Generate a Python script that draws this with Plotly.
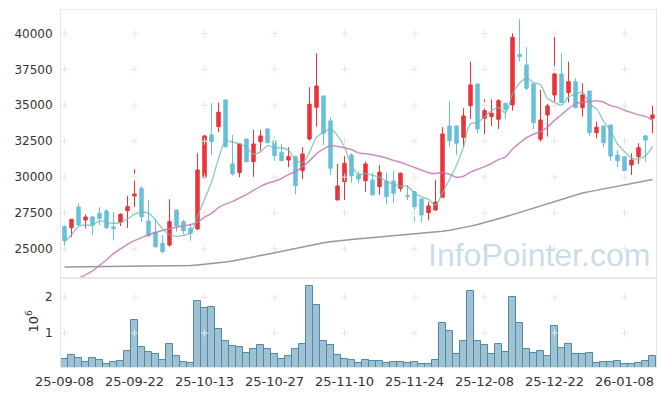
import plotly.graph_objects as go
from plotly.subplots import make_subplots

dates = [
    "25-09-08", "25-09-09", "25-09-10", "25-09-11", "25-09-12",
    "25-09-15", "25-09-16", "25-09-17", "25-09-18", "25-09-19",
    "25-09-22", "25-09-23", "25-09-24", "25-09-25", "25-09-26",
    "25-09-29", "25-09-30", "25-10-01", "25-10-02", "25-10-10",
    "25-10-13", "25-10-14", "25-10-15", "25-10-16", "25-10-17",
    "25-10-20", "25-10-21", "25-10-22", "25-10-23", "25-10-24",
    "25-10-27", "25-10-28", "25-10-29", "25-10-30", "25-10-31",
    "25-11-03", "25-11-04", "25-11-05", "25-11-06", "25-11-07",
    "25-11-10", "25-11-11", "25-11-12", "25-11-13", "25-11-14",
    "25-11-17", "25-11-18", "25-11-19", "25-11-20", "25-11-21",
    "25-11-24", "25-11-25", "25-11-26", "25-11-27", "25-11-28",
    "25-12-01", "25-12-02", "25-12-03", "25-12-04", "25-12-05",
    "25-12-08", "25-12-09", "25-12-10", "25-12-11", "25-12-12",
    "25-12-15", "25-12-16", "25-12-17", "25-12-18", "25-12-19",
    "25-12-22", "25-12-23", "25-12-24", "25-12-26", "25-12-29",
    "25-12-30", "26-01-02", "26-01-05", "26-01-06", "26-01-07",
    "26-01-08", "26-01-09", "26-01-12", "26-01-13", "26-01-14",
]

open_ = [
    26552, 26482, 27923, 27018, 27227, 27485, 27645, 26531, 26858, 27666,
    28689, 29225, 26949, 26162, 25397, 25278, 27714, 26900, 26441, 26392,
    29962, 32934, 33512, 35370, 30916, 30310, 32656, 31076, 32468, 33352,
    32538, 31730, 31194, 31424, 30450, 32656, 34862, 35649, 33909, 28410,
    29684, 31542, 30150, 29754, 29802, 29336, 29733, 29733, 29225, 28710,
    28988, 28480, 27526, 27714, 28598, 33561, 33561, 32774, 34974, 36484,
    34097, 34208, 34027, 35141, 35022, 38551, 37806, 36484, 32635, 34326,
    35718, 37180, 35878, 36644, 34834, 35997, 33094, 33561, 33630, 31542,
    31424, 30846, 31424, 32865, 34097,
]
high = [
    26670, 27067, 28181, 27415, 27297, 27902, 27763, 27575, 27485, 28689,
    30547, 29364, 28410, 27109, 25974, 28459, 27714, 27018, 26740, 31661,
    32934, 35141, 35182, 35400, 32934, 32308, 32656, 33282, 33282, 33401,
    32816, 32308, 32078, 31473, 32078, 36254, 38621, 35649, 34166, 30916,
    31473, 31661, 30380, 31076, 30310, 30846, 30310, 30450, 30310, 29454,
    29037, 28530, 28292, 29802, 33470, 35301, 33561, 34793, 38036, 36484,
    35419, 35419, 35419, 35182, 40013, 40987, 39038, 36484, 36066, 35092,
    40124, 38621, 38036, 36881, 36533, 35997, 33860, 33561, 33630, 31890,
    31424, 31661, 32357, 32934, 34953,
]
low = [
    25209, 25814, 26601, 26427, 25954, 26670, 26392, 25592, 26601, 26462,
    27923, 26879, 25814, 25070, 24700, 25160, 26204, 26044, 25578, 26322,
    29921, 31542, 33122, 32050, 30102, 29990, 31006, 30032, 31842, 32350,
    31146, 31104, 30686, 28828, 29851, 32538, 33512, 32238, 30150, 28410,
    28410, 29614, 29573, 28988, 28758, 28760, 28111, 28181, 28990, 28410,
    26900, 26830, 27018, 27645, 28598, 32120, 31542, 32120, 34048, 33053,
    33004, 33561, 33352, 34048, 34626, 38036, 36066, 33331, 32468, 32816,
    35252, 35182, 35182, 34793, 34208, 32865, 32705, 32078, 31146, 30686,
    30450, 30150, 30916, 31076, 33053,
]
close = [
    25578, 27067, 26670, 27227, 26656, 27137, 26482, 26413, 27415, 27944,
    28828, 27248, 25926, 25160, 24812, 26900, 26601, 26274, 26093, 30498,
    32865, 32468, 34514, 32120, 30220, 32308, 31076, 32308, 32865, 32398,
    31494, 31146, 31424, 29406, 31612, 35071, 36345, 33053, 30617, 29385,
    30965, 30102, 29872, 30916, 28758, 30338, 28640, 28877, 30269, 28668,
    27944, 27366, 27993, 28271, 33004, 32538, 32357, 34257, 36414, 33352,
    34626, 34445, 35322, 34723, 39734, 38384, 36185, 33790, 33978, 34953,
    37180, 35182, 36644, 34834, 35718, 33094, 33470, 32398, 31473, 31146,
    30450, 31194, 32050, 32586, 34326,
]
volume = [
    280000, 390000, 310000, 190000, 310000, 260000, 140000, 190000, 220000, 500000,
    1360000, 610000, 470000, 420000, 250000, 690000, 360000, 190000, 170000, 1890000,
    1690000, 1720000, 1110000, 780000, 640000, 610000, 440000, 560000, 670000, 560000,
    420000, 280000, 360000, 560000, 690000, 2310000, 1780000, 780000, 670000, 390000,
    280000, 260000, 170000, 260000, 220000, 220000, 170000, 190000, 190000, 170000,
    190000, 140000, 140000, 250000, 1280000, 1060000, 420000, 780000, 2170000, 780000,
    670000, 420000, 690000, 470000, 2000000, 1280000, 560000, 440000, 500000, 360000,
    1190000, 580000, 690000, 420000, 420000, 440000, 170000, 190000, 190000, 220000,
    140000, 140000, 170000, 220000, 360000,
]
ma5 = [
    25510, 25975, 26550, 26670, 26642, 26958, 26841, 26789, 26827, 27082,
    27416, 27570, 27473, 27022, 26396, 26010, 25880, 25949, 26136, 27273,
    28466, 29640, 31288, 32493, 32438, 32326, 32048, 31606, 31755, 32191,
    32029, 32043, 31867, 31175, 31017, 31732, 32771, 33097, 33340, 32894,
    32073, 30824, 30188, 30247, 30122, 29997, 29705, 29506, 29377, 29363,
    28884, 28629, 28453, 28053, 28915, 29835, 30833, 32086, 33715, 33785,
    34202, 34619, 34832, 34493, 35770, 36531, 36879, 36574, 36426, 35469,
    35217, 35016, 35585, 35756, 35909, 35095, 34752, 33903, 33230, 32316,
    31787, 31332, 31262, 31485, 32121,
]
ma20 = [
    22350, 22650, 22950, 23200, 23480, 23850, 24250, 24680, 25000, 25320,
    25578, 25780, 25990, 26150, 26280, 26400, 26510, 26610, 26700, 26848,
    27213, 27483, 27875, 28120, 28297, 28555, 28784, 29079, 29352, 29574,
    29708, 29903, 30178, 30390, 30730, 31138, 31626, 31964, 32191, 32135,
    32040, 31922, 31689, 31629, 31556, 31458, 31336, 31164, 31035, 30849,
    30672, 30482, 30311, 30254, 30324, 30197, 29998, 30058, 30348, 30546,
    30729, 30947, 31219, 31409, 31958, 32363, 32740, 32986, 33172, 33485,
    33946, 34337, 34769, 35098, 35233, 35261, 35316, 35224, 34976, 34866,
    34657, 34495, 34331, 34224, 33954,
]
ma120 = [
    23740, 23745, 23750, 23750, 23755, 23760, 23760, 23765, 23770, 23770,
    23775, 23775, 23780, 23780, 23785, 23790, 23800, 23820, 23850, 23890,
    23930, 23980, 24040, 24100, 24170, 24250, 24340, 24440, 24540, 24640,
    24740, 24860, 24960, 25060, 25160, 25260, 25370, 25440, 25510, 25570,
    25620, 25670, 25710, 25750, 25790, 25840, 25890, 25930, 25980, 26030,
    26070, 26120, 26150, 26190, 26240, 26300, 26380, 26480, 26590, 26710,
    26830, 26960, 27100, 27240, 27390, 27540, 27700, 27860, 28010, 28160,
    28320, 28480, 28640, 28780, 28890, 28990, 29090, 29190, 29290, 29380,
    29460, 29560, 29660, 29740, 29840,
]

price_ticks = [25000, 27500, 30000, 32500, 35000, 37500, 40000]
price_tick_text = ["25000", "27500", "30000", "32500", "35000", "37500", "40000"]
vol_ticks = [1000000, 2000000]
vol_tick_text = ["1", "2"]
x_tick_vals = dates[::10]
watermark = "InfoPointer.com"

UP = "#e9333a"
DOWN = "#68bfd9"
FRAME = "#e6e6e6"
CROSS = "#e6e6e6"

fig = make_subplots(rows=2, cols=1, shared_xaxes=True, vertical_spacing=0,
                    row_heights=[0.7507, 0.2493])

fig.add_trace(go.Candlestick(
    x=dates, open=open_, high=high, low=low, close=close,
    increasing=dict(line=dict(color=UP, width=1), fillcolor=UP),
    decreasing=dict(line=dict(color=DOWN, width=1), fillcolor=DOWN),
    whiskerwidth=0, hoverinfo="skip"), row=1, col=1)

fig.add_trace(go.Bar(x=dates, y=volume, hoverinfo="skip",
                     marker=dict(color="rgba(125,174,198,0.75)",
                                 line=dict(color="#5189a5", width=1))),
              row=2, col=1)

# grid crosses at tick intersections
px_x = [d for d in x_tick_vals for _ in price_ticks]
px_y = [p for _ in x_tick_vals for p in price_ticks]
fig.add_trace(go.Scatter(x=px_x, y=px_y, mode="markers", hoverinfo="skip",
                         marker=dict(symbol="cross-thin", size=5,
                                     line=dict(color=CROSS, width=1))),
              row=1, col=1)
vx = [d for d in x_tick_vals for _ in vol_ticks]
vy = [v for _ in x_tick_vals for v in vol_ticks]
fig.add_trace(go.Scatter(x=vx, y=vy, mode="markers", hoverinfo="skip",
                         marker=dict(symbol="cross-thin", size=5,
                                     line=dict(color=CROSS, width=1))),
              row=2, col=1)

fig.add_trace(go.Scatter(x=dates, y=ma120, mode="lines", hoverinfo="skip",
                         line=dict(color="rgba(140,140,140,0.9)", width=1.5)),
              row=1, col=1)
fig.add_trace(go.Scatter(x=dates, y=ma20, mode="lines", hoverinfo="skip",
                         line=dict(color="rgba(196,120,186,0.85)", width=1.5,
                                   shape="spline")),
              row=1, col=1)
fig.add_trace(go.Scatter(x=dates, y=ma5, mode="lines", hoverinfo="skip",
                         line=dict(color="rgba(110,188,176,0.8)", width=1.3,
                                   shape="spline")),
              row=1, col=1)

axis_common = dict(showline=True, mirror=True, linecolor=FRAME, linewidth=1,
                   showgrid=False, zeroline=False)

fig.update_xaxes(type="category", categoryorder="array", categoryarray=dates,
                 range=[-0.5, len(dates) - 0.5],
                 rangeslider=dict(visible=False), **axis_common)
fig.update_xaxes(showticklabels=False, row=1, col=1)
fig.update_xaxes(tickmode="array", tickvals=x_tick_vals, ticktext=x_tick_vals,
                 tickangle=0, tickfont=dict(size=13, color="#333"), ticks="",
                 ticklabelstandoff=2, row=2, col=1)
fig.update_yaxes(range=[22980, 41630], tickmode="array", tickvals=price_ticks,
                 ticktext=price_tick_text,
                 tickfont=dict(size=12, color="#333"), ticks="",
                 ticklabelstandoff=5, row=1, col=1, **axis_common)
fig.update_yaxes(range=[55000, 2536000], tickmode="array", tickvals=vol_ticks,
                 ticktext=vol_tick_text, tickfont=dict(size=12, color="#333"),
                 ticks="", ticklabelstandoff=5, row=2, col=1, **axis_common)

fig.add_annotation(text="10<sup>6</sup>", textangle=-90, xref="paper", yref="paper",
                   x=-0.049, y=0.13, xanchor="center", yanchor="middle",
                   showarrow=False, font=dict(size=13, color="#333"))
fig.add_annotation(text=watermark, xref="paper", yref="paper", x=0.803, y=0.3137,
                   xanchor="center", yanchor="middle", showarrow=False,
                   font=dict(family="Liberation Sans", size=32,
                             color="rgba(150,185,208,0.5)"))

# the page body has an 8px margin, so the figure is 8px smaller with trimmed margins
fig.update_layout(width=657, height=388, margin=dict(l=53, r=9, t=2, b=29),
                  plot_bgcolor="white", paper_bgcolor="white", showlegend=False,
                  bargap=0, hovermode=False,
                  font=dict(family="DejaVu Sans", color="#333"))

fig.write_html("out.html")
